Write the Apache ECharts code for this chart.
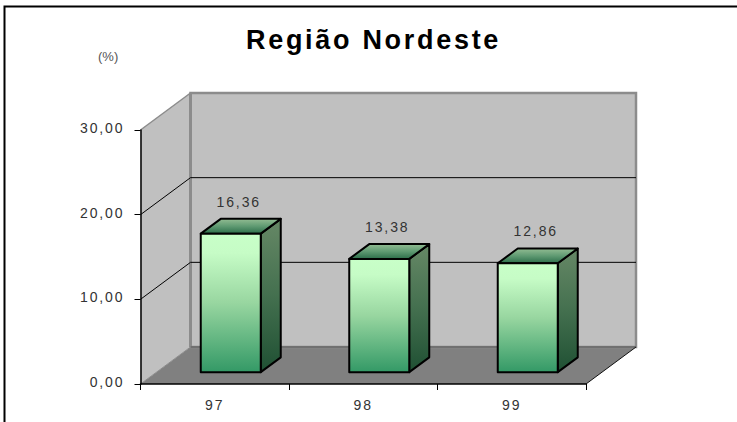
<!DOCTYPE html>
<html>
<head>
<meta charset="utf-8">
<style>
html,body{margin:0;padding:0;background:#fff}
#c{width:737px;height:422px}
svg text{letter-spacing:1.9px}
svg text[style*="bold"]{letter-spacing:2.7px}
svg text[style*="13px"]{letter-spacing:0}
</style>
<script src="https://cdn.jsdelivr.net/npm/echarts@6/dist/echarts.min.js"></script>
</head>
<body>
<div id="c"></div>
<script>
const titleText = 'Região Nordeste';
const unitText = '(%)';
const categories = ['97', '98', '99'];
const seriesValues = [16.36, 13.38, 12.86];
const yMin = 0;
const yMax = 30;
const yStep = 10;
const wallLevels = [10, 20];

const comma = v => v.toFixed(2).replace('.', ',');
const FONT = '"Liberation Sans", Arial, sans-serif';
// depth of the 3D box, and where the bar sits in that depth
const DX = 50, DY = -37, Z0 = 0.32, Z1 = 0.72, BAR_W = 60;

const grad = (a) => ({type:'linear', x:0, y:0, x2:0, y2:1, colorStops:a.map(s => ({offset:s[0], color:s[1]}))});

function renderScene(params, api) {
  const cs = params.coordSys;
  const L = cs.x, R = cs.x + cs.width;
  const B = api.coord([0, yMin])[1], T = api.coord([0, yMax])[1];
  const kids = [];
  const wallStroke = '#8c8c8c';
  kids.push({type:'polygon', shape:{points:[[L+DX,B+DY],[R+DX,B+DY],[R,B],[L,B]]}, style:{fill:'#808080', stroke:'none'}});
  kids.push({type:'rect', shape:{x:L+DX, y:T+DY, width:R-L, height:B-T}, style:{fill:'#c0c0c0', stroke:wallStroke, lineWidth:2.5}});
  kids.push({type:'polygon', shape:{points:[[L,T],[L+DX,T+DY],[L+DX,B+DY],[L,B]]}, style:{fill:'#c0c0c0', stroke:'none'}});
  kids.push({type:'line', shape:{x1:L, y1:T, x2:L+DX, y2:T+DY}, style:{stroke:wallStroke, lineWidth:1.5}});
  kids.push({type:'line', shape:{x1:L+DX, y1:T+DY, x2:L+DX, y2:B+DY}, style:{stroke:wallStroke, lineWidth:3}});
  kids.push({type:'line', shape:{x1:L+DX, y1:B+DY, x2:R+DX, y2:B+DY}, style:{stroke:'#707070', lineWidth:2}});
  kids.push({type:'line', shape:{x1:L, y1:B, x2:L+DX, y2:B+DY}, style:{stroke:'#8c8c8c', lineWidth:1}});
  kids.push({type:'line', shape:{x1:R, y1:B, x2:R+DX, y2:B+DY}, style:{stroke:'#111', lineWidth:1}});
  wallLevels.forEach(v => {
    const y = api.coord([0, v])[1];
    kids.push({type:'polyline', shape:{points:[[L,y],[L+DX,y+DY],[R+DX,y+DY]]}, style:{stroke:'#000', lineWidth:1, fill:'none'}});
  });
  return {type:'group', children:kids};
}

function renderBar(params, api) {
  const c = api.value(0), v = api.value(1);
  const base = api.coord([c, yMin]), top = api.coord([c, v]);
  const xl = base[0] + DX*Z0 - BAR_W/2, xr = xl + BAR_W;
  const yb = base[1] + DY*Z0, yt = top[1] + DY*Z0;
  const dx = DX*(Z1-Z0), dy = DY*(Z1-Z0);
  const line = {stroke:'#000', lineWidth:2, lineJoin:'round'};
  return {type:'group', children:[
    {type:'polygon', shape:{points:[[xr,yt],[xr+dx,yt+dy],[xr+dx,yb+dy],[xr,yb]]},
      style:Object.assign({fill:grad([[0,'#668866'],[0.5,'#44704f'],[1,'#1f5033']])}, line)},
    {type:'polygon', shape:{points:[[xl,yt],[xl+dx,yt+dy],[xr+dx,yt+dy],[xr,yt]]},
      style:Object.assign({fill:grad([[0,'#93bd93'],[0.5,'#5f9a72'],[1,'#2c6e4a']])}, line)},
    {type:'rect', shape:{x:xl, y:yt, width:BAR_W, height:yb-yt},
      style:Object.assign({fill:grad([[0,'#c8ffc8'],[0.14,'#c6fcc6'],[0.5,'#98d6a0'],[1,'#339966']])}, line)},
    {type:'text', x:xl+BAR_W/2+8, y:yt+dy-17, style:{text:comma(v), fill:'#333', font:'14px '+FONT, align:'center', verticalAlign:'middle'}}
  ]};
}

const chart = echarts.init(document.getElementById('c'), null, {renderer:'svg'});
chart.setOption({
  animation:false,
  backgroundColor:'#fff',
  title:{text:titleText, left:241, top:21, textStyle:{fontFamily:FONT, fontWeight:'bold', fontSize:27, color:'#000'}},
  grid:{left:140.5, right:151, top:130, bottom:38},
  xAxis:{type:'category', data:categories, z:6,
    axisTick:{show:true, length:6, lineStyle:{color:'#000', width:1}},
    axisLine:{lineStyle:{color:'#000', width:1.5}},
    axisLabel:{margin:14, color:'#333', fontFamily:FONT, fontSize:14}},
  yAxis:{type:'value', min:yMin, max:yMax, interval:yStep, z:6,
    splitLine:{show:false},
    axisLine:{show:true, lineStyle:{color:'#000', width:1.5}},
    axisTick:{show:true, length:6, lineStyle:{color:'#000', width:1}},
    axisLabel:{margin:16, color:'#333', fontFamily:FONT, fontSize:14, verticalAlign:'bottom', lineHeight:4, formatter:v => comma(v)}},
  graphic:[
    {type:'polyline', z:10, silent:true, shape:{points:[[4.5,422],[4.5,6.5],[737,6.5]]}, style:{stroke:'#000', lineWidth:2, fill:'none'}},
    {type:'text', z:10, left:98, top:50, style:{text:unitText, fill:'#555', font:'13px '+FONT}}
  ],
  series:[
    {type:'custom', z:1, silent:true, data:[[0, yMax]], clip:false, renderItem:renderScene},
    {type:'custom', z:3, silent:true, clip:false, renderItem:renderBar,
      encode:{x:0, y:1}, data:seriesValues.map((v,i) => [i, v])}
  ]
});
</script>
</body>
</html>
